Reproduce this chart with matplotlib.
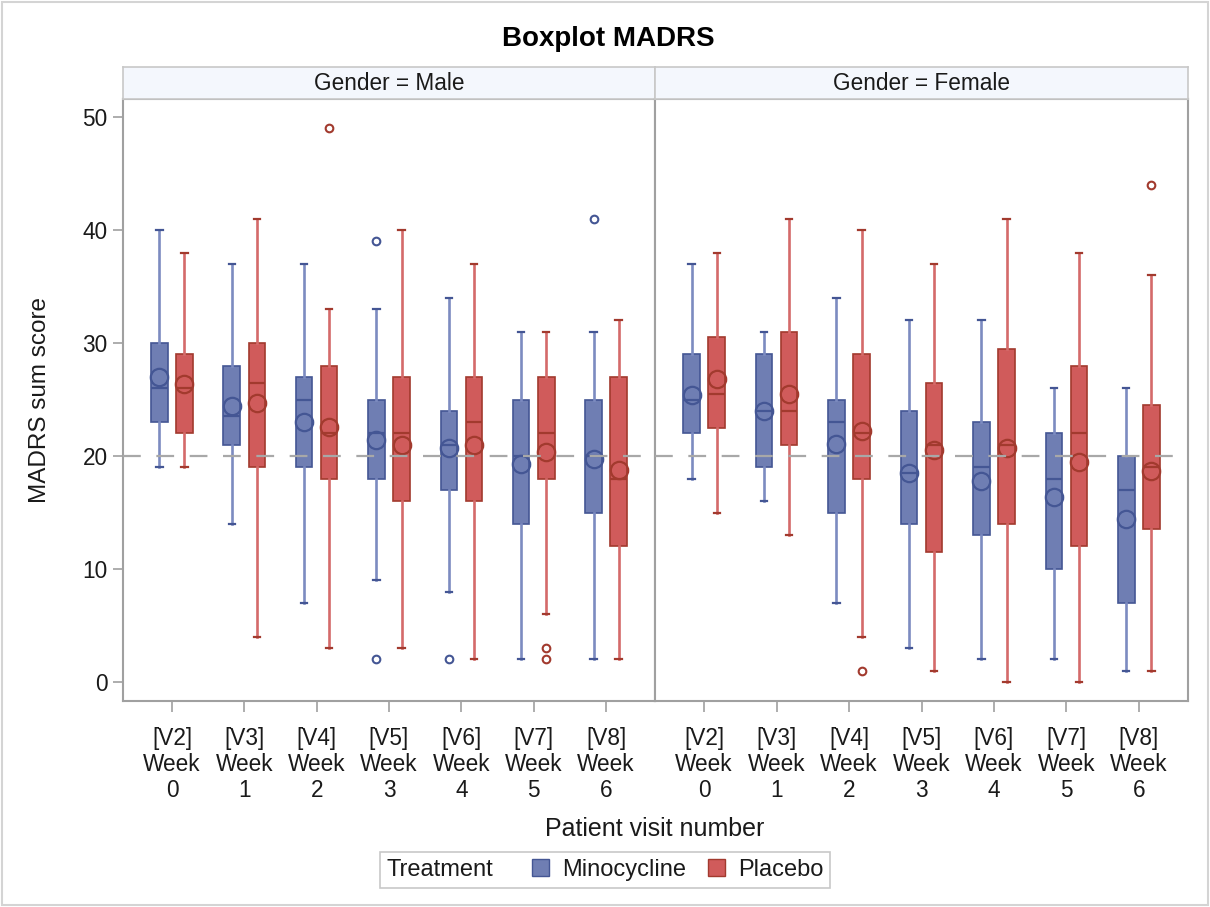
import matplotlib
matplotlib.use('Agg')
import matplotlib.pyplot as plt
import numpy as np
from matplotlib.patches import Patch, Rectangle
from matplotlib.offsetbox import HPacker

plt.rcParams['font.family'] = ['Liberation Sans', 'DejaVu Sans']

# ---------------- data ----------------
visit_labels = ['[V2]\nWeek\n0', '[V3]\nWeek\n1', '[V4]\nWeek\n2', '[V5]\nWeek\n3',
                '[V6]\nWeek\n4', '[V7]\nWeek\n5', '[V8]\nWeek\n6']
genders = ['Male', 'Female']
treatments = ['Minocycline', 'Placebo']
y_ticks = [0, 10, 20, 30, 40, 50]
ref_value = 20

# Male - Minocycline
male_mino_lo = [19, 14, 7, 9, 8, 2, 2]
male_mino_q1 = [23, 21, 19, 18, 17, 14, 15]
male_mino_med = [26, 23.5, 25, 22, 21, 20, 20]
male_mino_q3 = [30, 28, 27, 25, 24, 25, 25]
male_mino_hi = [40, 37, 37, 33, 34, 31, 31]
male_mino_mean = [27.0, 24.4, 23.0, 21.4, 20.7, 19.3, 19.7]
male_mino_out = [[], [], [], [39, 2], [2], [], [41]]

# Male - Placebo
male_plac_lo = [19, 4, 3, 3, 2, 6, 2]
male_plac_q1 = [22, 19, 18, 16, 16, 18, 12]
male_plac_med = [26, 26.5, 22, 22, 23, 22, 18]
male_plac_q3 = [29, 30, 28, 27, 27, 27, 27]
male_plac_hi = [38, 41, 33, 40, 37, 31, 32]
male_plac_mean = [26.4, 24.7, 22.6, 21.0, 21.0, 20.4, 18.8]
male_plac_out = [[], [], [49], [], [], [3, 2], []]

# Female - Minocycline
fem_mino_lo = [18, 16, 7, 3, 2, 2, 1]
fem_mino_q1 = [22, 19, 15, 14, 13, 10, 7]
fem_mino_med = [25, 24, 23, 18.5, 19, 18, 17]
fem_mino_q3 = [29, 29, 25, 24, 23, 22, 20]
fem_mino_hi = [37, 31, 34, 32, 32, 26, 26]
fem_mino_mean = [25.4, 24.0, 21.1, 18.5, 17.8, 16.4, 14.4]
fem_mino_out = [[], [], [], [], [], [], []]

# Female - Placebo
fem_plac_lo = [15, 13, 4, 1, 0, 0, 1]
fem_plac_q1 = [22.5, 21, 18, 11.5, 14, 12, 13.5]
fem_plac_med = [25.5, 24, 22, 21, 21, 22, 19]
fem_plac_q3 = [30.5, 31, 29, 26.5, 29.5, 28, 24.5]
fem_plac_hi = [38, 41, 40, 37, 41, 38, 36]
fem_plac_mean = [26.8, 25.5, 22.2, 20.5, 20.7, 19.5, 18.7]
fem_plac_out = [[], [], [1], [], [], [], [44]]


def make_stats(lo, q1, med, q3, hi, mean, out):
    return [dict(whislo=a, q1=b, med=c, q3=d, whishi=e, mean=f, fliers=g)
            for a, b, c, d, e, f, g in zip(lo, q1, med, q3, hi, mean, out)]


panel_stats = {
    'Male': [make_stats(male_mino_lo, male_mino_q1, male_mino_med, male_mino_q3,
                        male_mino_hi, male_mino_mean, male_mino_out),
             make_stats(male_plac_lo, male_plac_q1, male_plac_med, male_plac_q3,
                        male_plac_hi, male_plac_mean, male_plac_out)],
    'Female': [make_stats(fem_mino_lo, fem_mino_q1, fem_mino_med, fem_mino_q3,
                          fem_mino_hi, fem_mino_mean, fem_mino_out),
               make_stats(fem_plac_lo, fem_plac_q1, fem_plac_med, fem_plac_q3,
                          fem_plac_hi, fem_plac_mean, fem_plac_out)],
}

# ---------------- style ----------------
fills = ['#6F7EB3', '#D05B5B']
whisk = ['#7C8BC0', '#D46A6A']
edges = ['#445694', '#A23A2E']
offsets = [-0.173, 0.173]
axis_gray = '#A0A0A0'
text_col = '#1a1a1a'

W, H = 1210, 907
fig = plt.figure(figsize=(W / 100, H / 100), dpi=100)


def fx(px):
    return px / W


def fy(py):
    return 1 - py / H


plot_top, plot_bot = 99, 701
panel_x = [(123, 655), (655, 1188)]

# outer frame
fig.patches.append(Rectangle((0.0015, 0.002), 0.997, 0.996, transform=fig.transFigure,
                             fill=False, edgecolor='#D4D4D4', linewidth=1.5))

fig.text(fx(608), fy(39), 'Boxplot MADRS', ha='center', va='center',
         fontsize=20, fontweight='bold', color='black')

axes = []
for gi, g in enumerate(genders):
    x0, x1 = panel_x[gi]
    ax = fig.add_axes([fx(x0), fy(plot_bot), fx(x1 - x0), (plot_bot - plot_top) / H])
    axes.append(ax)
    x = np.arange(len(visit_labels))
    for k in range(2):
        ax.bxp(panel_stats[g][k], positions=x + offsets[k], widths=0.23, capwidths=0.085,
               patch_artist=True, showmeans=True, meanline=False, showfliers=True,
               manage_ticks=False,
               boxprops=dict(facecolor=fills[k], edgecolor=edges[k], linewidth=1.2),
               medianprops=dict(color=edges[k], linewidth=1.6),
               whiskerprops=dict(color=whisk[k], linewidth=1.9),
               capprops=dict(color=edges[k], linewidth=1.6),
               meanprops=dict(marker='o', markerfacecolor='none', markeredgecolor=edges[k],
                              markersize=12.5, markeredgewidth=1.6),
               flierprops=dict(marker='o', markerfacecolor='none', markeredgecolor=edges[k],
                               markersize=5.5, markeredgewidth=1.5))
    ax.axhline(ref_value, color='#A8A8A8', linewidth=1.6, linestyle=(0, (8, 7)), zorder=3)
    ax.set_xlim(-0.677, 6.677)
    ax.set_ylim(-1.68, 51.6)
    ax.set_xticks(x)
    ax.set_xticklabels(visit_labels, fontsize=16.3, color=text_col, linespacing=1.15)
    ax.tick_params(axis='x', length=8, width=1.2, color=axis_gray, pad=11)
    if gi == 0:
        ax.set_yticks(y_ticks)
        ax.set_yticklabels([str(v) for v in y_ticks], fontsize=16.3, color=text_col)
        ax.tick_params(axis='y', length=7, width=1.2, color=axis_gray, pad=4)
        ax.set_ylabel('MADRS sum score', fontsize=17.5, color=text_col)
        ax.yaxis.set_label_coords((51 - 123) / (655 - 123), 0.5)
    else:
        ax.set_yticks([])
    for s in ax.spines.values():
        s.set_color(axis_gray)
        s.set_linewidth(1.5)

    # header strip
    hax = fig.add_axes([fx(x0), fy(plot_top), fx(x1 - x0), (plot_top - 67) / H])
    hax.set_facecolor('#F4F7FD')
    hax.set_xticks([])
    hax.set_yticks([])
    for s in hax.spines.values():
        s.set_color('#C8C8C8')
        s.set_linewidth(1.2)
    hax.text(0.5, 0.5, f'Gender = {g}', ha='center', va='center', fontsize=16.3,
             color=text_col, transform=hax.transAxes)

fig.text(fx(655), fy(829), 'Patient visit number', ha='center', va='center',
         fontsize=18, color=text_col)

handles = [Patch(facecolor=fills[k], edgecolor=edges[k], linewidth=1.0) for k in range(2)]
leg = fig.legend(handles, treatments, loc='center', bbox_to_anchor=(fx(605), fy(870)),
                 ncol=2, title='Treatment', title_fontsize=17, fontsize=17,
                 frameon=True, fancybox=False, edgecolor='#C8C8C8', framealpha=1,
                 handlelength=0.7, handleheight=0.7, handletextpad=0.55,
                 columnspacing=0.95, borderpad=0.3)
leg.get_frame().set_linewidth(1.2)
for t in leg.get_texts():
    t.set_color(text_col)
leg.get_title().set_color(text_col)
try:
    fs = leg._fontsize
    leg._legend_box = HPacker(pad=0.3 * fs, sep=1.65 * fs, align='center',
                              children=[leg._legend_title_box, leg._legend_handle_box])
    leg._legend_box.set_figure(fig)
    leg._set_loc(leg._loc)
except Exception:
    pass

fig.savefig('out.png', dpi=100)
